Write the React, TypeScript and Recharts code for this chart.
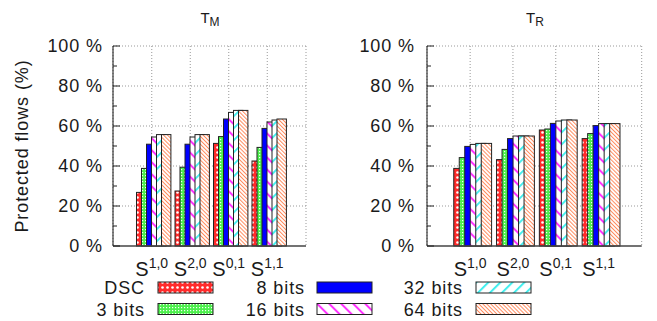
import { BarChart, Bar, XAxis, YAxis, CartesianGrid } from "recharts";

// superscripts of the S^{a,b} categories
const categories = ["1,0", "2,0", "0,1", "1,1"];
const seriesNames = ["DSC", "3 bits", "8 bits", "16 bits", "32 bits", "64 bits"];
const yTicks = [0, 10, 20, 30, 40, 50, 60, 70, 80, 90, 100];
const yMajor = [20, 40, 60, 80, 100];

// T_M panel
const tmDsc = [26.8, 27.5, 51.3, 42.5];
const tm3 = [38.8, 39.4, 54.7, 49.3];
const tm8 = [50.9, 50.9, 63.5, 58.8];
const tm16 = [54.5, 54.5, 66.8, 62.0];
const tm32 = [55.7, 55.7, 67.8, 63.0];
const tm64 = [55.7, 55.7, 67.8, 63.5];

// T_R panel
const trDsc = [38.8, 43.2, 58.0, 53.7];
const tr3 = [44.2, 48.3, 58.5, 56.2];
const tr8 = [49.8, 53.7, 61.3, 60.2];
const tr16 = [50.8, 55.0, 62.5, 61.2];
const tr32 = [51.3, 55.0, 63.0, 61.2];
const tr64 = [51.3, 55.0, 63.0, 61.2];

const fills = ["url(#pDsc)", "url(#p3)", "#0000ff", "url(#p16)", "url(#p32)", "url(#p64)"];
const FONT = '"Liberation Sans", Arial, sans-serif';
const INK = "#1a1a1a";
const WIDE = 1.88;

const buildRows = (cols: number[][]) =>
  categories.map((c, i) => {
    const row: Record<string, number | string> = { cat: c };
    cols.forEach((col, k) => (row["s" + k] = col[i]));
    return row;
  });

const tmRows = buildRows([tmDsc, tm3, tm8, tm16, tm32, tm64]);
const trRows = buildRows([trDsc, tr3, tr8, tr16, tr32, tr64]);

// gnuplot-style clustered boxes: each box is wider than its slot, so the next one overlaps it
const WideBar = (props: any) => {
  const { x, y, width, height, fill } = props;
  if (!height || height <= 0) return null;
  return <rect x={x} y={y} width={width * WIDE} height={height} fill={fill} stroke="#222" strokeWidth={1} />;
};

const LeftTick = ({ x, y, payload, gap }: any) => {
  const major = payload.value % 20 === 0;
  return (
    <g>
      <line x1={x} x2={x + (major ? 7 : 4)} y1={y} y2={y} stroke="#222" />
      {major && (
        <text x={x - gap} y={y} dy="0.36em" textAnchor="end" fontSize={18} letterSpacing={0.9} fill={INK} fontFamily={FONT}>
          {payload.value} %
        </text>
      )}
    </g>
  );
};

const RightTick = ({ x, y, payload }: any) => {
  const major = payload.value % 20 === 0;
  return <line x1={x - (major ? 7 : 4)} x2={x} y1={y} y2={y} stroke="#333" />;
};

const TopTick = ({ x, y }: any) => <line x1={x} x2={x} y1={y} y2={y + 6} stroke="#333" />;

const CatTick = ({ x, y, payload }: any) => (
  <text x={x} y={y + 30} textAnchor="middle" fill={INK} fontFamily={FONT}>
    <tspan fontSize={20}>S</tspan>
    <tspan fontSize={14} dy={-8}>
      {payload.value}
    </tspan>
  </text>
);

interface PanelProps {
  rows: Record<string, number | string>[];
  width: number;
  axisW: number;
  rightM: number;
  pad: number;
  barSize: number;
  gap: number;
}

function Panel({ rows, width, axisW, rightM, pad, barSize, gap }: PanelProps) {
  return (
    <BarChart
      width={width}
      height={321}
      data={rows}
      margin={{ top: 46, right: rightM, bottom: 0, left: 0 }}
      barGap={0}
      barSize={barSize}
    >
      <CartesianGrid stroke="#999" strokeDasharray="1 2" horizontalValues={yMajor} />
      <XAxis
        dataKey="cat"
        height={75}
        padding={{ left: pad, right: pad }}
        tickSize={0}
        tickMargin={0}
        interval={0}
        tick={CatTick}
        axisLine={{ stroke: "#444", strokeWidth: 1.5 }}
        tickLine={false}
      />
      <XAxis
        xAxisId="top"
        dataKey="cat"
        orientation="top"
        height={0}
        padding={{ left: pad, right: pad }}
        tickSize={0}
        tickMargin={0}
        interval={0}
        tick={TopTick}
        axisLine={false}
        tickLine={false}
      />
      <YAxis
        width={axisW}
        domain={[0, 100]}
        ticks={yTicks}
        interval={0}
        tickSize={0}
        tickMargin={0}
        tick={(p: any) => <LeftTick {...p} gap={gap} />}
        axisLine={{ stroke: "#111", strokeWidth: 1 }}
        tickLine={false}
      />
      <YAxis
        yAxisId="r"
        orientation="right"
        width={0}
        domain={[0, 100]}
        ticks={yTicks}
        interval={0}
        tickSize={0}
        tickMargin={0}
        tick={RightTick}
        axisLine={{ stroke: "#555", strokeWidth: 1 }}
        tickLine={false}
      />
      {seriesNames.map((name, k) => (
        <Bar key={name} dataKey={"s" + k} name={name} fill={fills[k]} shape={WideBar} isAnimationActive={false} />
      ))}
    </BarChart>
  );
}

function Overlay() {
  const legendCols = [
    { textRight: 145, boxLeft: 158 },
    { textRight: 305, boxLeft: 317 },
    { textRight: 463, boxLeft: 476 },
  ];
  const rowsY = [287.5, 309];
  return (
    <svg width={657} height={321} style={{ position: "absolute", left: 0, top: 0, pointerEvents: "none" }}>
      <defs>
        <pattern id="pDsc" patternUnits="userSpaceOnUse" width={5} height={5}>
          <rect width={5} height={5} fill="#ff2a2a" />
          <circle cx={2.5} cy={2.5} r={1.3} fill="#fff" />
        </pattern>
        <pattern id="p3" patternUnits="userSpaceOnUse" width={3} height={3}>
          <rect width={3} height={3} fill="#4cef4c" />
          <rect x={1} y={1} width={1.2} height={1.2} fill="#f2fff2" />
        </pattern>
        <pattern id="p16" patternUnits="userSpaceOnUse" width={8.5} height={8.5} patternTransform="rotate(-45)">
          <rect width={8.5} height={8.5} fill="#fff" />
          <rect width={2} height={8.5} fill="#ff33ff" />
        </pattern>
        <pattern id="p32" patternUnits="userSpaceOnUse" width={8.5} height={8.5} patternTransform="rotate(45)">
          <rect width={8.5} height={8.5} fill="#fff" />
          <rect width={2} height={8.5} fill="#44eeee" />
        </pattern>
        <pattern id="p64" patternUnits="userSpaceOnUse" width={2.8} height={2.8} patternTransform="rotate(-45)">
          <rect width={2.8} height={2.8} fill="#fff" />
          <rect width={1} height={2.8} fill="#ff8a5c" />
        </pattern>
      </defs>

      <text x={210} y={23} textAnchor="middle" fill={INK} fontFamily={FONT}>
        <tspan fontSize={15}>T</tspan>
        <tspan fontSize={12} dy={3}>M</tspan>
      </text>
      <text x={535} y={23} textAnchor="middle" fill={INK} fontFamily={FONT}>
        <tspan fontSize={15}>T</tspan>
        <tspan fontSize={12} dy={3}>R</tspan>
      </text>

      <text
        transform="translate(28,146) rotate(-90)"
        textAnchor="middle"
        fontSize={18}
        letterSpacing={0.9}
        fill={INK}
        fontFamily={FONT}
      >
        Protected flows (%)
      </text>

      {seriesNames.map((name, k) => {
        const col = legendCols[Math.floor(k / 2)];
        const cy = rowsY[k % 2];
        return (
          <g key={name}>
            <text x={col.textRight} y={cy + 6.5} textAnchor="end" fontSize={18} letterSpacing={0.9} fill={INK} fontFamily={FONT}>
              {name}
            </text>
            <rect x={col.boxLeft} y={cy - 5.5} width={55} height={11} fill={fills[k]} stroke="#222" strokeWidth={1} />
          </g>
        );
      })}
    </svg>
  );
}

export default function App() {
  return (
    <div style={{ position: "absolute", left: 0, top: 0, width: 657, height: 321, background: "#fff" }}>
      <div style={{ position: "absolute", left: 0, top: 0 }}>
        <Panel rows={tmRows} width={320} axisW={113} rightM={14} pad={19.5} barSize={5} gap={10} />
      </div>
      <div style={{ position: "absolute", left: 320, top: 0 }}>
        <Panel rows={trRows} width={337} axisW={107} rightM={15.3} pad={21.75} barSize={5.5} gap={12} />
      </div>
      <Overlay />
    </div>
  );
}
